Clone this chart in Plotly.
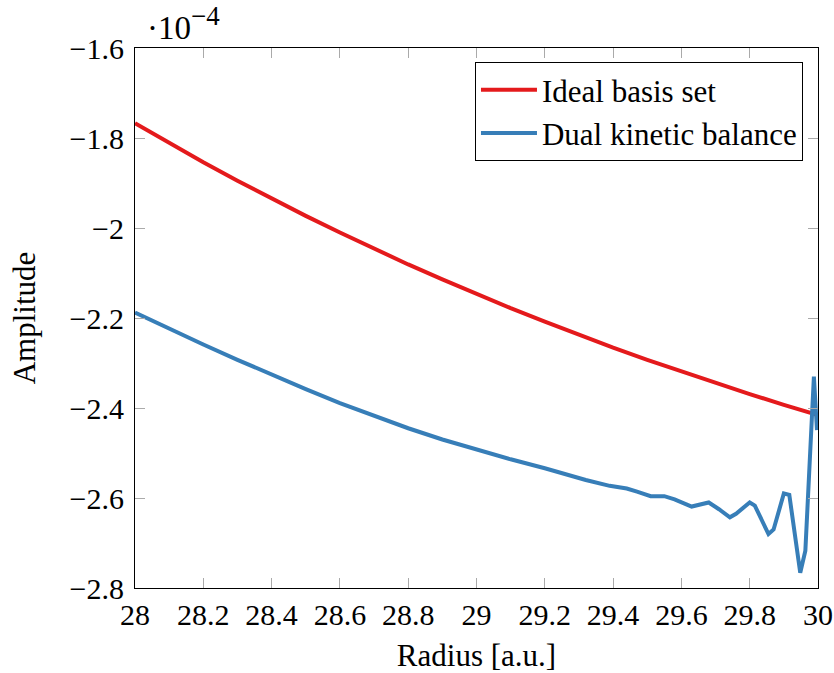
import plotly.graph_objects as go

# Radius grid [a.u.] and amplitudes (in units of 1e-4)
radius_ideal = [28.0, 28.1, 28.2, 28.3, 28.4, 28.5, 28.6, 28.7, 28.8, 28.9, 29.0,
                29.1, 29.2, 29.3, 29.4, 29.5, 29.6, 29.7, 29.8, 29.9, 30.0]
amp_ideal = [-1.767, -1.811, -1.854, -1.895, -1.935, -1.973, -2.010, -2.046, -2.081, -2.114, -2.147,
             -2.178, -2.208, -2.238, -2.266, -2.293, -2.319, -2.345, -2.369, -2.393, -2.416]

radius_dkb = [28.0, 28.1, 28.2, 28.3, 28.4, 28.5, 28.6, 28.7, 28.8, 28.9, 29.0,
              29.1, 29.2, 29.27, 29.32, 29.39, 29.44, 29.47, 29.51, 29.55, 29.58,
              29.63, 29.68, 29.71, 29.742, 29.76, 29.80, 29.815, 29.855, 29.87,
              29.90, 29.916, 29.948, 29.963, 29.988, 29.997]
amp_dkb = [-2.188, -2.224, -2.259, -2.293, -2.326, -2.358, -2.389, -2.418, -2.445, -2.470, -2.493,
           -2.514, -2.534, -2.550, -2.560, -2.573, -2.579, -2.586, -2.596, -2.596, -2.603,
           -2.619, -2.610, -2.625, -2.643, -2.635, -2.610, -2.617, -2.680, -2.670,
           -2.590, -2.593, -2.766, -2.717, -2.330, -2.449]

x_ticks = [28.0, 28.2, 28.4, 28.6, 28.8, 29.0, 29.2, 29.4, 29.6, 29.8, 30.0]
y_ticks = [-2.8, -2.6, -2.4, -2.2, -2.0, -1.8, -1.6]

FONT = "Liberation Serif"
RED = "#e41a1c"
BLUE = "#377eb8"

fig = go.Figure()
fig.add_trace(go.Scatter(x=radius_ideal, y=amp_ideal, mode="lines", name="Ideal basis set",
                         line=dict(color=RED, width=4)))
fig.add_trace(go.Scatter(x=radius_dkb, y=amp_dkb, mode="lines", name="Dual kinetic balance",
                         line=dict(color=BLUE, width=4)))

axis_common = dict(
    showgrid=False, zeroline=False,
    showline=True, linecolor="black", linewidth=1.2, mirror="ticks",
    ticks="inside", ticklen=10, tickwidth=1, tickcolor="#aaaaaa",
    tickfont=dict(family=FONT, size=30, color="black"),
)

fig.update_xaxes(range=[28, 30], tickvals=x_ticks,
                 ticktext=[f"{v:g}" for v in x_ticks],
                 automargin=False,
                 title=dict(text="Radius [a.u.]", font=dict(family=FONT, size=31, color="black")),
                 **axis_common)
fig.update_yaxes(range=[-2.8, -1.6], tickvals=y_ticks,
                 ticktext=[f"\u2212{abs(v):g}" for v in y_ticks],
                 ticklabelstandoff=4, automargin=True,
                 title=dict(text="Amplitude", font=dict(family=FONT, size=31, color="black"),
                            standoff=24),
                 **axis_common)

# Scale factor of the y axis, written above its top end
fig.add_annotation(text="\u00b710<sup><span style='font-size:27px'>\u22124</span></sup>",
                   xref="paper", yref="paper",
                   x=0.015, y=1.0, xanchor="left", yanchor="bottom", yshift=0,
                   showarrow=False, font=dict(family=FONT, size=33, color="black"))

fig.update_layout(
    width=834, height=673,
    margin=dict(l=135, r=16, t=48, b=85),
    paper_bgcolor="white", plot_bgcolor="white",
    font=dict(family=FONT, size=31, color="black"),
    legend=dict(x=0.978, y=0.974, xanchor="right", yanchor="top",
                bordercolor="black", borderwidth=1, bgcolor="white",
                font=dict(family=FONT, size=31, color="black"),
                tracegroupgap=0, itemwidth=56),
)

fig.write_html("out.html")
